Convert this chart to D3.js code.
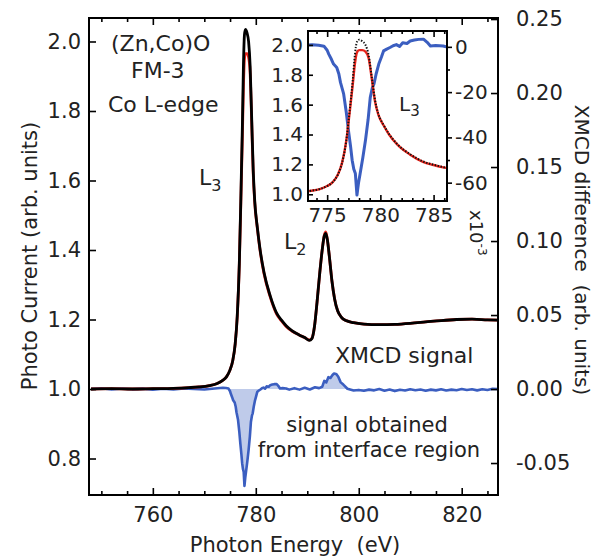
<!DOCTYPE html>
<html>
<head>
<meta charset="utf-8">
<script src="https://cdn.jsdelivr.net/npm/d3@7"></script>
<style>
  body { margin: 0; background: #fff; }
  svg text { font-family: "DejaVu Sans", sans-serif; fill: #222; }
</style>
</head>
<body>
<div id="chart"></div>
<script>
// photo current (both helicities), eV vs arb. units
var energy = [748, 752, 756, 760, 764, 767, 769, 771, 772.5, 773.5, 774.3, 775, 775.5, 776, 776.4, 776.8,
    777.1, 777.4, 777.6, 777.8, 778.0, 778.3, 778.6, 778.9, 779.2, 779.5, 779.8, 780.3, 780.8, 781.6,
    782.8, 784, 785, 785.9, 787, 788.5, 789.5, 790.4, 790.9, 791.4, 791.9, 792.4, 792.9, 793.3, 793.6,
    793.9, 794.3, 794.8, 795.3, 795.9, 796.6, 797.5, 799, 801, 804, 807, 810, 813, 816, 819, 822, 825, 827];
var pcBlack = [1.000, 1.001, 1.000, 1.001, 1.002, 1.004, 1.006, 1.010, 1.016, 1.024, 1.035, 1.055, 1.08, 1.13, 1.21, 1.36,
    1.55, 1.76, 1.93, 2.02, 2.035, 2.025, 2.00, 1.93, 1.78, 1.63, 1.54, 1.465, 1.405, 1.335,
    1.268, 1.22, 1.198, 1.182, 1.168, 1.155, 1.148, 1.140, 1.145, 1.18, 1.25, 1.33, 1.40, 1.440, 1.448,
    1.43, 1.38, 1.31, 1.26, 1.225, 1.207, 1.197, 1.191, 1.187, 1.185, 1.186, 1.189, 1.193, 1.197, 1.200, 1.201, 1.199, 1.198];
var pcRed = [1.000, 1.001, 1.000, 1.001, 1.002, 1.004, 1.006, 1.010, 1.016, 1.024, 1.035, 1.055, 1.08, 1.13, 1.21, 1.36,
    1.54, 1.73, 1.87, 1.95, 1.965, 1.965, 1.955, 1.91, 1.77, 1.62, 1.535, 1.462, 1.402, 1.332,
    1.265, 1.217, 1.196, 1.180, 1.167, 1.155, 1.148, 1.141, 1.146, 1.18, 1.25, 1.33, 1.40, 1.442, 1.452,
    1.43, 1.38, 1.31, 1.26, 1.225, 1.207, 1.197, 1.191, 1.187, 1.185, 1.186, 1.189, 1.193, 1.197, 1.200, 1.201, 1.199, 1.198];

// XMCD difference
var xmcdEnergy = [748, 750, 752, 754, 756, 758, 760, 762, 764, 766, 768, 770, 772, 773.6, 774.2, 774.7, 775.0,
    775.15, 775.4, 775.6, 775.9, 776.1, 776.25, 776.55, 776.8, 777.0, 777.2, 777.35, 777.5, 777.65, 777.8,
    777.95, 778.1, 778.35, 778.6, 778.85, 779.05, 779.25, 779.4, 779.6, 779.85, 780.1, 780.3, 780.6, 780.9,
    781.2, 781.5, 781.8, 782.1, 782.5, 782.8, 783.2, 783.6, 784.05, 784.4, 784.7, 785.2, 785.9, 786.5, 787.5,
    788.5, 789.5, 790.5, 791.5, 792.3, 792.9, 793.3, 793.7, 794.1, 794.5, 794.9, 795.2, 795.6, 796.0, 796.5,
    797.0, 797.8, 799, 800, 801, 802, 803, 804, 805, 806, 807, 808, 809, 810, 811, 812, 813, 814, 815, 816,
    817, 818, 819, 820, 821, 822, 823, 824, 825, 826, 827];
var xmcdValues = [0.0000, 0.0005, -0.0003, 0.0004, -0.0002, 0.0003, -0.0004, 0.0002, -0.0003, 0.0004, 0.0001, -0.0003, 0.0004, 0.0009, 0.0007, 0.0003, -0.0015,
    -0.0032, -0.0055, -0.0076, -0.0091, -0.0120, -0.0157, -0.0208, -0.0290, -0.0369, -0.0440, -0.0501, -0.0540, -0.0560, -0.0655,
    -0.0600, -0.0560, -0.0490, -0.0413, -0.0320, -0.0223, -0.0180, -0.0164, -0.0120, -0.0076, -0.0045, -0.0018, -0.0010, -0.0003,
    0.0005, 0.0010, 0.0002, 0.0018, 0.0015, 0.0026, 0.0030, 0.0033, 0.0034, 0.0020, 0.0004, 0.0006, 0.0004, -0.0004, 0.0006,
    -0.0004, 0.0008, -0.0003, 0.0012, 0.0006, 0.0015, 0.0055, 0.0045, 0.0080, 0.0075, 0.0095, 0.0105, 0.0102, 0.0085, 0.0045,
    0.0030, 0.0002, -0.0010, -0.0006, -0.0012, -0.0004, -0.0009, 0.0000, -0.0011, -0.0003, -0.0014, -0.0005, -0.0010, -0.0002, -0.0008, -0.0003, -0.0011, -0.0004, -0.0009, -0.0002,
    -0.0010, -0.0004, -0.0008, 0.0000, -0.0007, -0.0002, -0.0009, -0.0001, -0.0006, 0.0002, 0.0000];

var leftTicks = [0.8, 1.0, 1.2, 1.4, 1.6, 1.8, 2.0];
var rightTicks = [-0.05, 0, 0.05, 0.10, 0.15, 0.20, 0.25];
var energyTicks = [760, 780, 800, 820];
var insetEnergyTicks = [775, 780, 785];
var insetLeftTicks = [1.0, 1.2, 1.4, 1.6, 1.8, 2.0];
var insetRightTicks = [0, -0.02, -0.04, -0.06];

var width = 599, height = 558;
var black = "#000", red = "#e8251c", blue = "#3b5ec0", blueFill = "#b8c5e8";

var svg = d3.select("#chart").append("svg")
    .attr("width", width)
    .attr("height", height);

var x = d3.scaleLinear().domain([747.6, 827.05]).range([89, 498]);
var yL = d3.scaleLinear().domain([0.695, 2.0676]).range([495, 18]);
var yR = d3.scaleLinear().domain([-0.0716, 0.2507]).range([495, 18]);

var pc = energy.map(function(e, i) { return {e: e, b: pcBlack[i], r: pcRed[i]}; });
var xm = xmcdEnergy.map(function(e, i) { return {e: e, v: xmcdValues[i]}; });

function styleAxis(g, size) {
    g.select(".domain").remove();
    g.attr("font-family", "DejaVu Sans").attr("font-size", size);
    g.selectAll("line").attr("stroke", black).attr("stroke-width", 1.6);
    g.selectAll("text").attr("fill", "#222");
}

// XMCD fill + line
svg.append("path")
    .datum(xm)
    .attr("d", d3.area().x(function(d) { return x(d.e); }).y0(yR(0)).y1(function(d) { return yR(d.v); }))
    .attr("fill", blueFill)
    .attr("opacity", 0.9);

svg.append("path")
    .datum(xm)
    .attr("d", d3.line().x(function(d) { return x(d.e); }).y(function(d) { return yR(d.v); }))
    .attr("fill", "none")
    .attr("stroke", blue)
    .attr("stroke-width", 2.6)
    .attr("stroke-linejoin", "round");

// photo current curves
svg.append("path")
    .datum(pc)
    .attr("d", d3.line().curve(d3.curveMonotoneX).x(function(d) { return x(d.e); }).y(function(d) { return yL(d.r); }))
    .attr("fill", "none")
    .attr("stroke", red)
    .attr("stroke-width", 2.8);

svg.append("path")
    .datum(pc)
    .attr("d", d3.line().curve(d3.curveMonotoneX).x(function(d) { return x(d.e); }).y(function(d) { return yL(d.b); }))
    .attr("fill", "none")
    .attr("stroke", black)
    .attr("stroke-width", 2.8);

// main frame
svg.append("rect")
    .attr("x", 89).attr("y", 18)
    .attr("width", 409).attr("height", 477)
    .attr("fill", "none")
    .attr("stroke", black)
    .attr("stroke-width", 2);

var minorE = d3.range(750, 830, 5).filter(function(d) { return d % 20 !== 0; });

svg.append("g").attr("transform", "translate(0,495)")
    .call(d3.axisBottom(x).tickValues(energyTicks).tickSize(-7).tickPadding(12).tickFormat(d3.format("d")))
    .call(styleAxis, 21);
svg.append("g").attr("transform", "translate(0,495)")
    .call(d3.axisBottom(x).tickValues(minorE).tickSize(-4).tickFormat(""))
    .call(styleAxis, 21);
svg.append("g").attr("transform", "translate(0,18)")
    .call(d3.axisTop(x).tickValues(energyTicks).tickSize(-7).tickFormat(""))
    .call(styleAxis, 21);
svg.append("g").attr("transform", "translate(0,18)")
    .call(d3.axisTop(x).tickValues(minorE).tickSize(-4).tickFormat(""))
    .call(styleAxis, 21);

svg.append("g").attr("transform", "translate(89,0)")
    .call(d3.axisLeft(yL).tickValues(leftTicks).tickSize(-7).tickPadding(8).tickFormat(function(d) { return d.toFixed(1); }))
    .call(styleAxis, 21);

svg.append("g").attr("transform", "translate(498,0)")
    .call(d3.axisRight(yR).tickValues(rightTicks).tickSize(-7).tickPadding(18).tickFormat(function(d) { return d.toFixed(2); }))
    .call(styleAxis, 21);

// axis titles
svg.append("text")
    .attr("transform", "translate(37,256) rotate(-90)")
    .attr("text-anchor", "middle")
    .style("font-size", "21px")
    .text("Photo Current (arb. units)");

svg.append("text")
    .attr("transform", "translate(575,250) rotate(90)")
    .attr("text-anchor", "middle")
    .style("font-size", "20px")
    .style("white-space", "pre")
    .text("XMCD difference  (arb. units)");

svg.append("text")
    .attr("x", 295).attr("y", 552)
    .attr("text-anchor", "middle")
    .style("font-size", "21px")
    .style("white-space", "pre")
    .text("Photon Energy  (eV)");

// annotations
svg.append("text").attr("x", 111).attr("y", 51).style("font-size", "22px").text("(Zn,Co)O");
svg.append("text").attr("x", 131).attr("y", 78).style("font-size", "22px").text("FM-3");
svg.append("text").attr("x", 108).attr("y", 112).style("font-size", "22px").text("Co L-edge");

var l3 = svg.append("text").attr("x", 199).attr("y", 185).style("font-size", "22px");
l3.append("tspan").text("L");
l3.append("tspan").attr("dy", 6).style("font-size", "16px").text("3");

var l2 = svg.append("text").attr("x", 284).attr("y", 249).style("font-size", "22px");
l2.append("tspan").text("L");
l2.append("tspan").attr("dy", 6).style("font-size", "16px").text("2");

svg.append("text").attr("x", 335).attr("y", 363).style("font-size", "22px").text("XMCD signal");
svg.append("text").attr("x", 367).attr("y", 432).attr("text-anchor", "middle").style("font-size", "21px").text("signal obtained");
svg.append("text").attr("x", 369).attr("y", 457).attr("text-anchor", "middle").style("font-size", "21px").text("from interface region");

// inset
var ix = d3.scaleLinear().domain([773.2, 786.26]).range([308, 447]);
var iyL = d3.scaleLinear().domain([0.955, 2.093]).range([201, 31]);
var iyR = d3.scaleLinear().domain([-0.0681, 0.0070]).range([201, 31]);

svg.append("rect")
    .attr("x", 308).attr("y", 31)
    .attr("width", 139).attr("height", 170)
    .attr("fill", "#fff");

svg.append("clipPath").attr("id", "insetClip")
    .append("rect")
    .attr("x", 308).attr("y", 31)
    .attr("width", 139).attr("height", 170);

var inset = svg.append("g").attr("clip-path", "url(#insetClip)");

inset.append("path")
    .datum(xm)
    .attr("d", d3.line().x(function(d) { return ix(d.e); }).y(function(d) { return iyR(d.v); }))
    .attr("fill", "none")
    .attr("stroke", blue)
    .attr("stroke-width", 3)
    .attr("stroke-linejoin", "round");

inset.append("path")
    .datum(pc)
    .attr("d", d3.line().curve(d3.curveMonotoneX).x(function(d) { return ix(d.e); }).y(function(d) { return iyL(d.r); }))
    .attr("fill", "none")
    .attr("stroke", red)
    .attr("stroke-width", 2.4);

inset.append("path")
    .datum(pc)
    .attr("d", d3.line().curve(d3.curveMonotoneX).x(function(d) { return ix(d.e); }).y(function(d) { return iyL(d.b); }))
    .attr("fill", "none")
    .attr("stroke", "#111")
    .attr("stroke-width", 2)
    .attr("stroke-dasharray", "1.4,1.6");

svg.append("rect")
    .attr("x", 308).attr("y", 31)
    .attr("width", 139).attr("height", 170)
    .attr("fill", "none")
    .attr("stroke", black)
    .attr("stroke-width", 2);

var insetMinorE = d3.range(774, 787).filter(function(d) { return d % 5 !== 0; });

svg.append("g").attr("transform", "translate(0,201)")
    .call(d3.axisBottom(ix).tickValues(insetEnergyTicks).tickSize(-6).tickPadding(7).tickFormat(d3.format("d")))
    .call(styleAxis, 20);
svg.append("g").attr("transform", "translate(0,201)")
    .call(d3.axisBottom(ix).tickValues(insetMinorE).tickSize(-3).tickFormat(""))
    .call(styleAxis, 20);
svg.append("g").attr("transform", "translate(0,31)")
    .call(d3.axisTop(ix).tickValues(insetEnergyTicks).tickSize(-6).tickFormat(""))
    .call(styleAxis, 20);
svg.append("g").attr("transform", "translate(0,31)")
    .call(d3.axisTop(ix).tickValues(insetMinorE).tickSize(-3).tickFormat(""))
    .call(styleAxis, 20);

svg.append("g").attr("transform", "translate(308,0)")
    .call(d3.axisLeft(iyL).tickValues(insetLeftTicks).tickSize(-5).tickPadding(5).tickFormat(function(d) { return d.toFixed(1); }))
    .call(styleAxis, 20);

svg.append("g").attr("transform", "translate(447,0)")
    .call(d3.axisRight(iyR).tickValues(insetRightTicks).tickSize(5).tickPadding(3).tickFormat(function(d) { return Math.round(d * 1000); }))
    .call(styleAxis, 20);
svg.append("g").attr("transform", "translate(447,0)")
    .call(d3.axisRight(iyR).tickValues([-0.01, -0.03, -0.05]).tickSize(3).tickFormat(""))
    .call(styleAxis, 20);

var il3 = svg.append("text").attr("x", 399).attr("y", 111).style("font-size", "20px").attr("fill", "#333");
il3.append("tspan").text("L");
il3.append("tspan").attr("dy", 5).style("font-size", "15px").text("3");

// x10^-3 scale note
var sc = svg.append("text")
    .attr("transform", "translate(470,210) rotate(90)")
    .style("font-size", "18px");
sc.append("tspan").text("x10");
sc.append("tspan").attr("dy", -8).style("font-size", "12px").text("-3");
</script>
</body>
</html>
